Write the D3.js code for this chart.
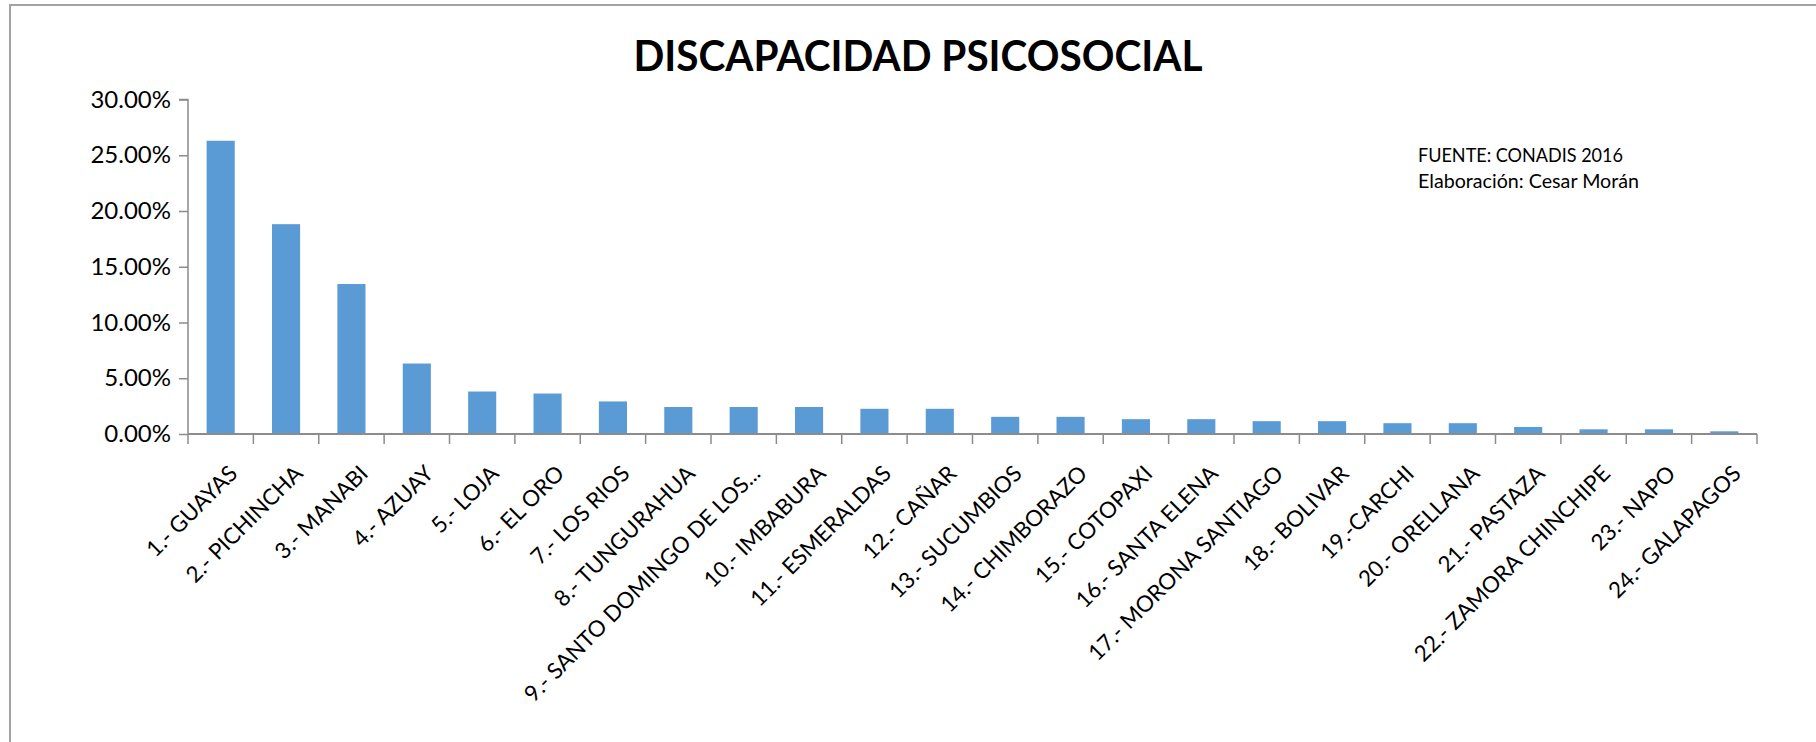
<!DOCTYPE html>
<html>
<head>
<meta charset="utf-8">
<script src="https://cdn.jsdelivr.net/npm/d3@7"></script>
<style>
  html, body { margin: 0; padding: 0; background: #ffffff; }
  svg { display: block; }
</style>
</head>
<body>
<svg id="chart" width="1816" height="742"></svg>
<script>
const categories = [
  "1.- GUAYAS", "2.- PICHINCHA", "3.- MANABI", "4.- AZUAY", "5.- LOJA", "6.- EL ORO",
  "7.- LOS RIOS", "8.- TUNGURAHUA", "9.- SANTO DOMINGO DE LOS...", "10.- IMBABURA",
  "11.- ESMERALDAS", "12.- CAÑAR", "13.- SUCUMBIOS", "14.- CHIMBORAZO", "15.- COTOPAXI",
  "16.- SANTA ELENA", "17.- MORONA SANTIAGO", "18.- BOLIVAR", "19.-CARCHI", "20.- ORELLANA",
  "21.- PASTAZA", "22.- ZAMORA CHINCHIPE", "23.- NAPO", "24.- GALAPAGOS"
];
const values = [
  0.2630, 0.1882, 0.1345, 0.0632, 0.0381, 0.0363, 0.0292, 0.0242, 0.0242, 0.0242,
  0.0226, 0.0226, 0.0154, 0.0154, 0.0133, 0.0133, 0.0115, 0.0115, 0.0097, 0.0097,
  0.0063, 0.0042, 0.0042, 0.0024
];
const yTicks = [0, 0.05, 0.10, 0.15, 0.20, 0.25, 0.30];
const titleText = "DISCAPACIDAD PSICOSOCIAL";
const noteLines = ["FUENTE: CONADIS 2016", "Elaboración: Cesar Morán"];
const noteWidths = [205, 221];

const svg = d3.select("#chart");
const W = 1816, H = 742;
const font = "Lato, 'Open Sans', 'DejaVu Sans', sans-serif";
const axisColor = "#8c8c8c";

svg.append("rect").attr("width", W).attr("height", H).attr("fill", "#fff");
// outer border (chart area frame)
svg.append("path")
  .attr("d", `M10,${H + 5} L10,5 L${W + 5},5`)
  .attr("fill", "none").attr("stroke", "#a3a3a3").attr("stroke-width", 2);

const x0 = 188, x1 = 1757, yBase = 434, yTop = 99.5;
const x = d3.scaleBand().domain(categories).range([x0, x1]).padding(0);
const y = d3.scaleLinear().domain([0, 0.30]).range([yBase, yTop]);

// Title
svg.append("text")
  .attr("x", 918).attr("y", 71)
  .attr("text-anchor", "middle")
  .attr("font-family", font).attr("font-weight", 700)
  .attr("font-size", 42)
  .attr("textLength", 569).attr("lengthAdjust", "spacingAndGlyphs")
  .attr("fill", "#000")
  .text(titleText);

// Note
svg.append("g").selectAll("text").data(noteLines).join("text")
  .attr("x", 1418).attr("y", (d, i) => 162 + i * 26)
  .attr("font-family", font).attr("font-size", 19.5).attr("fill", "#000")
  .attr("textLength", (d, i) => noteWidths[i]).attr("lengthAdjust", "spacingAndGlyphs")
  .text(d => d);

// Bars
const barW = x.bandwidth() * 0.43;
svg.append("g").selectAll("rect").data(values).join("rect")
  .attr("x", (d, i) => x(categories[i]) + (x.bandwidth() - barW) / 2)
  .attr("y", d => y(d))
  .attr("width", barW)
  .attr("height", d => y(0) - y(d))
  .attr("fill", "#5b9bd5");

// Y axis
const yAxis = d3.axisLeft(y).tickValues(yTicks).tickSize(9).tickPadding(8)
  .tickFormat(d3.format(".2%"));
const gy = svg.append("g").attr("transform", `translate(${x0},0)`).call(yAxis);
gy.select(".domain").attr("stroke", axisColor).attr("stroke-width", 1.5)
  .attr("d", `M-9,${yTop}H0V${yBase}`);
gy.selectAll(".tick line").attr("stroke", axisColor).attr("stroke-width", 1.5);
gy.selectAll(".tick text").attr("font-family", font).attr("font-size", 24).attr("fill", "#000");

// X axis (ticks at category boundaries)
const gx = svg.append("g").attr("transform", `translate(0,${yBase})`);
gx.append("line").attr("x1", x0).attr("x2", x1).attr("y1", 0).attr("y2", 0)
  .attr("stroke", axisColor).attr("stroke-width", 2);
const bounds = categories.map(c => x(c)).concat([x1]);
gx.selectAll("line.tk").data(bounds).join("line").attr("class", "tk")
  .attr("x1", d => d).attr("x2", d => d).attr("y1", 0).attr("y2", 10)
  .attr("stroke", axisColor).attr("stroke-width", 1.5);
gx.selectAll("text.lbl").data(categories).join("text").attr("class", "lbl")
  .attr("transform", d => `translate(${x(d) + x.bandwidth() / 2 + 18},${41}) rotate(-45)`)
  .attr("text-anchor", "end")
  .attr("font-family", font).attr("font-size", 22.3).attr("fill", "#000")
  .text(d => d);
</script>
</body>
</html>
